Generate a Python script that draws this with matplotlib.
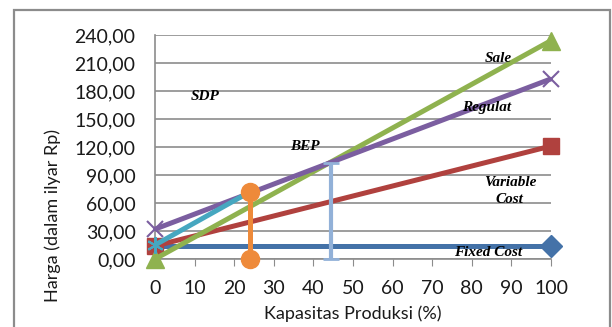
import matplotlib.pyplot as plt
from matplotlib.patches import Rectangle

# data
kapasitas = [0, 100]
fixed_cost = [14, 14]
variable_cost = [14, 121]
sale = [0, 234]
regulat = [32, 193]
sdp_x = [0, 24]
sdp_y = [15, 72]
sdp_drop_x = [24, 24]
sdp_drop_y = [0, 72]
bep_x = [44.4, 44.4]
bep_y = [0, 103]

xticks = list(range(0, 101, 10))
yticks = list(range(0, 241, 30))
ytick_labels = ["{:.2f}".format(v).replace(".", ",") for v in yticks]

annotations = [
    ("SDP", 12.6, 174),
    ("BEP", 37.9, 120),
    ("Sale", 86.6, 215),
    ("Regulat", 83.8, 162),
    ("Variable\nCost", 89.6, 73),
    ("Fixed Cost", 84, 6.5),
]

plt.rcParams['font.family'] = ['Lato', 'DejaVu Sans']

fig = plt.figure(figsize=(6.12, 3.27), dpi=100)
ax = fig.add_axes([155 / 612, 1 - 259 / 327, 396 / 612, 224 / 327])

# outer chart border
fig.patches.append(Rectangle((14 / 612, -0.05), 596 / 612, 1 - 10 / 327 + 0.05,
                             transform=fig.transFigure, fill=False,
                             edgecolor='#8c8c8c', linewidth=1.6))

lw = 3.6
ax.plot(kapasitas, fixed_cost, color='#4472a8', lw=lw, marker='D', ms=11,
        markevery=[1], zorder=3)
ax.plot(kapasitas, variable_cost, color='#b0413e', lw=lw, marker='s', ms=11,
        zorder=4)
ax.plot(kapasitas, sale, color='#8fb24f', lw=lw, marker='^', ms=13, zorder=5)
ax.plot(kapasitas, regulat, color='#7b5ea0', lw=lw, marker='x', ms=12,
        mew=1.5, zorder=6)
ax.plot(sdp_x, sdp_y, color='#46a7c0', lw=lw, marker=(6, 2, 0), ms=12,
        mew=1.5, zorder=7)
ax.plot(sdp_drop_x, sdp_drop_y, color='#ee8a3a', lw=lw, marker='o', ms=13,
        zorder=8)
ax.plot(bep_x, bep_y, color='#92b1d8', lw=3, marker='_', ms=12, mew=2,
        zorder=9)

for text, x, y in annotations:
    ax.text(x, y, text, family='Liberation Serif', style='italic',
            weight='bold', fontsize=11, ha='center', va='center',
            linespacing=1.45, zorder=10)

ax.set_xlim(0, 100)
ax.set_ylim(0, 240)
ax.set_xticks(xticks)
ax.set_yticks(yticks)
ax.set_yticklabels(ytick_labels)
ax.grid(axis='y', color='#8c8c8c', lw=1.2, zorder=0)
ax.set_axisbelow(True)
for s in ['top', 'right']:
    ax.spines[s].set_visible(False)
ax.spines['left'].set_color('#8c8c8c')
ax.spines['bottom'].set_color('#8c8c8c')
ax.spines['left'].set_linewidth(1.2)
ax.spines['bottom'].set_linewidth(1.2)
ax.tick_params(axis='x', direction='out', length=5, color='#8c8c8c',
               labelsize=14, pad=10)
ax.tick_params(axis='y', length=0, labelsize=14, pad=14)
for lbl in ax.get_xticklabels() + ax.get_yticklabels():
    lbl.set_color('#1a1a1a')
ax.set_xlabel("Kapasitas Produksi (%)", fontsize=13, labelpad=6)
ax.set_ylabel("Harga (dalam ilyar Rp)", fontsize=13)
ax.yaxis.set_label_coords(-0.238, 0.195)
for a in [ax.xaxis.label, ax.yaxis.label]:
    a.set_color('#1a1a1a')

for line in ax.get_lines():
    line.set_clip_on(False)
    line.set_solid_capstyle('butt')

fig.savefig('out.png', dpi=100)
